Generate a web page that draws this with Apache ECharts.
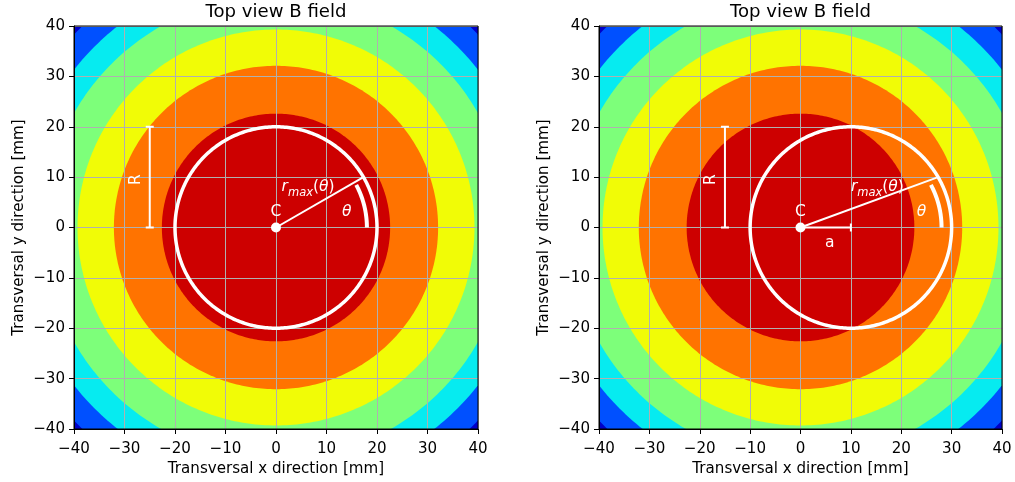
<!DOCTYPE html>
<html>
<head>
<meta charset="utf-8">
<script src="https://cdn.jsdelivr.net/npm/echarts@6/dist/echarts.min.js"></script>
<style>
  html, body { margin: 0; padding: 0; background: #fff; }
  #chart { width: 1015px; height: 482px; }
</style>
</head>
<body>
<div id="chart"></div>
<script>
// ---- data ----
const tickValues = [-40, -30, -20, -10, 0, 10, 20, 30, 40];
const panelTitles = ['Top view B field', 'Top view B field'];
const xAxisName = 'Transversal x direction [mm]';
const yAxisName = 'Transversal y direction [mm]';

// Field contour boundaries, distance from the field centre in mm (outermost first)
const contourRadii = [55.4, 50.8, 46.0, 39.3, 32.1, 22.6];
// Band colours (jet), weakest field first
const bandColors = ['#0000c8', '#0050ff', '#06ebf0', '#7dff7a', '#f1fc06', '#ff7300', '#cd0000'];

// Beam circle and its construction, one entry per panel
const circleCenterX = [0, 10];
const circleRadius = [20, 20];
const markAngleDeg = [30, 30];
const arcRadius = [18, 18];
const arcSpanDeg = [28, 28];
const rBarX = [-25, -15];
const offsetA = [0, 10];

// Annotation text anchors in mm
const labelC = [[0, 3.1], [0, 3.1]];
const labelRmax = [[1.1, 8.0], [10.0, 8.0]];
const labelTheta = [[14.0, 3.1], [24.0, 3.1]];
const labelR = [[-27.8, 9.5], [-17.8, 9.5]];
const labelA = [null, [5.8, -3.1]];

// ---- layout ----
const FONT = 'DejaVu Sans';
const FS = 15.1;
const AFS = 15.5;
const grids = [
  { left: 74, top: 26, width: 404, height: 403 },
  { left: 599, top: 26, width: 403, height: 403 }
];
const axMin = tickValues[0];
const axMax = tickValues[tickValues.length - 1];
const fmt = v => (v < 0 ? '\u2212' + Math.abs(v) : String(v));

function xAxisCfg(i) {
  return {
    type: 'value', gridIndex: i, min: axMin, max: axMax, interval: 10, z: 2,
    name: xAxisName, nameLocation: 'middle', nameGap: 33,
    nameTextStyle: { fontFamily: FONT, fontSize: FS, color: '#000' },
    axisLine: { show: true, onZero: false, lineStyle: { color: '#000', width: 1 } },
    axisTick: { show: true, inside: false, length: 5, lineStyle: { color: '#000', width: 1 } },
    axisLabel: { margin: 13, fontFamily: FONT, fontSize: FS, color: '#000', formatter: fmt,
                 showMinLabel: true, showMaxLabel: true },
    splitLine: { show: true, lineStyle: { color: '#b0b0b0', width: 1 } }
  };
}
function yAxisCfg(i) {
  return {
    type: 'value', gridIndex: i, min: axMin, max: axMax, interval: 10, z: 2,
    name: yAxisName, nameLocation: 'middle', nameGap: 47, nameRotate: 90,
    nameTextStyle: { fontFamily: FONT, fontSize: FS, color: '#000' },
    axisLine: { show: true, onZero: false, lineStyle: { color: '#000', width: 1 } },
    axisTick: { show: true, inside: false, length: 5, lineStyle: { color: '#000', width: 1 } },
    axisLabel: { margin: 9, fontFamily: FONT, fontSize: FS, color: '#000', formatter: fmt,
                 showMinLabel: true, showMaxLabel: true },
    splitLine: { show: true, lineStyle: { color: '#b0b0b0', width: 1 } }
  };
}

// Filled contour bands: navy background, then one disc per boundary
function renderBand(params, api) {
  const i = params.dataIndex;
  const r = api.value(0);
  const children = [];
  if (i === 0) {
    const p0 = api.coord([axMin, axMax]);
    const p1 = api.coord([axMax, axMin]);
    children.push({ type: 'rect', shape: { x: p0[0], y: p0[1], width: p1[0] - p0[0], height: p1[1] - p0[1] },
                    style: { fill: bandColors[0] } });
  }
  const pts = [];
  for (let k = 0; k < 360; k++) {
    const t = k * Math.PI / 180;
    pts.push(api.coord([r * Math.cos(t), r * Math.sin(t)]));
  }
  children.push({ type: 'polygon', shape: { points: pts }, style: { fill: bandColors[i + 1] } });
  return { type: 'group', children };
}

function textEl(pos, text, extra) {
  return {
    type: 'text', x: pos[0], y: pos[1],
    style: Object.assign({ text, fill: '#fff', font: AFS + 'px "' + FONT + '"', align: 'center', verticalAlign: 'middle' },
                         extra || {})
  };
}

// White construction drawing for one panel
function makeAnnot(p) {
  return function (params, api) {
    const W = '#fff';
    const cx = circleCenterX[p], R = circleRadius[p];
    const ch = [];
    // circle
    const cpts = [];
    for (let k = 0; k < 360; k++) {
      const t = k * Math.PI / 180;
      cpts.push(api.coord([cx + R * Math.cos(t), R * Math.sin(t)]));
    }
    ch.push({ type: 'polygon', shape: { points: cpts }, style: { fill: 'none', stroke: W, lineWidth: 3.5 } });
    // r_max line from C to the circle
    const m = markAngleDeg[p] * Math.PI / 180;
    const c0 = api.coord([0, 0]);
    const pe = api.coord([cx + R * Math.cos(m), R * Math.sin(m)]);
    ch.push({ type: 'line', shape: { x1: c0[0], y1: c0[1], x2: pe[0], y2: pe[1] }, style: { stroke: W, lineWidth: 2 } });
    // theta arc
    const apts = [];
    for (let d = 0; d <= arcSpanDeg[p]; d += 0.5) {
      const t = d * Math.PI / 180;
      apts.push(api.coord([cx + arcRadius[p] * Math.cos(t), arcRadius[p] * Math.sin(t)]));
    }
    ch.push({ type: 'polyline', shape: { points: apts }, style: { fill: 'none', stroke: W, lineWidth: 4, lineCap: 'butt' } });
    // R bar with caps
    const b0 = api.coord([rBarX[p], 0]);
    const b1 = api.coord([rBarX[p], R]);
    ch.push({ type: 'line', shape: { x1: b0[0], y1: b0[1], x2: b1[0], y2: b1[1] }, style: { stroke: W, lineWidth: 2 } });
    [b0, b1].forEach(b => ch.push({ type: 'line', shape: { x1: b[0] - 4, y1: b[1], x2: b[0] + 4, y2: b[1] },
                                    style: { stroke: W, lineWidth: 2 } }));
    // offset bar a
    if (offsetA[p] > 0) {
      const a1 = api.coord([offsetA[p], 0]);
      ch.push({ type: 'line', shape: { x1: c0[0], y1: c0[1], x2: a1[0], y2: a1[1] }, style: { stroke: W, lineWidth: 2 } });
      ch.push({ type: 'line', shape: { x1: a1[0], y1: a1[1] - 4, x2: a1[0], y2: a1[1] + 4 }, style: { stroke: W, lineWidth: 2 } });
    }
    // centre dot
    ch.push({ type: 'circle', shape: { cx: c0[0], cy: c0[1], r: 5 }, style: { fill: W } });
    // labels
    ch.push(textEl(api.coord(labelC[p]), 'C'));
    ch.push(textEl(api.coord(labelTheta[p]), 'θ', { font: 'italic ' + AFS + 'px "' + FONT + '"' }));
    const rp = api.coord(labelRmax[p]);
    ch.push({
      type: 'text', x: rp[0], y: rp[1],
      style: {
        text: '{i|r}{s|max}{u|(}{i|θ}{u|)}', align: 'left', verticalAlign: 'middle',
        rich: {
          i: { fill: W, fontFamily: FONT, fontSize: AFS, fontStyle: 'italic', lineHeight: 24, verticalAlign: 'middle' },
          u: { fill: W, fontFamily: FONT, fontSize: AFS, lineHeight: 24, verticalAlign: 'middle' },
          s: { fill: W, fontFamily: FONT, fontSize: 11.5, fontStyle: 'italic', lineHeight: 24, verticalAlign: 'bottom' }
        }
      }
    });
    const rl = api.coord(labelR[p]);
    ch.push(Object.assign(textEl(rl, 'R'), { rotation: Math.PI / 2 }));
    if (labelA[p]) ch.push(textEl(api.coord(labelA[p]), 'a'));
    // plot frame
    const f0 = api.coord([axMin, axMax]);
    const f1 = api.coord([axMax, axMin]);
    ch.push({ type: 'rect', shape: { x: f0[0], y: f0[1], width: f1[0] - f0[0], height: f1[1] - f0[1] },
              style: { fill: 'none', stroke: '#000', lineWidth: 1 } });
    return { type: 'group', children: ch };
  };
}

const series = [];
[0, 1].forEach(p => {
  series.push({ type: 'custom', xAxisIndex: p, yAxisIndex: p, z: 1, clip: true, silent: true,
                data: contourRadii.map(r => [r, 0]), renderItem: renderBand });
  series.push({ type: 'custom', xAxisIndex: p, yAxisIndex: p, z: 5, clip: false, silent: true,
                data: [[0, 0]], renderItem: makeAnnot(p) });
});

const chart = echarts.init(document.getElementById('chart'), null, { renderer: 'canvas' });
chart.setOption({
  animation: false,
  backgroundColor: '#fff',
  title: panelTitles.map((t, p) => ({
    text: t, left: grids[p].left + grids[p].width / 2, top: 3, textAlign: 'center', padding: 0,
    textStyle: { fontFamily: FONT, fontSize: 18.1, fontWeight: 'normal', color: '#000' }
  })),
  grid: grids.map(g => Object.assign({ containLabel: false }, g)),
  xAxis: [xAxisCfg(0), xAxisCfg(1)],
  yAxis: [yAxisCfg(0), yAxisCfg(1)],
  series
});
</script>
</body>
</html>
